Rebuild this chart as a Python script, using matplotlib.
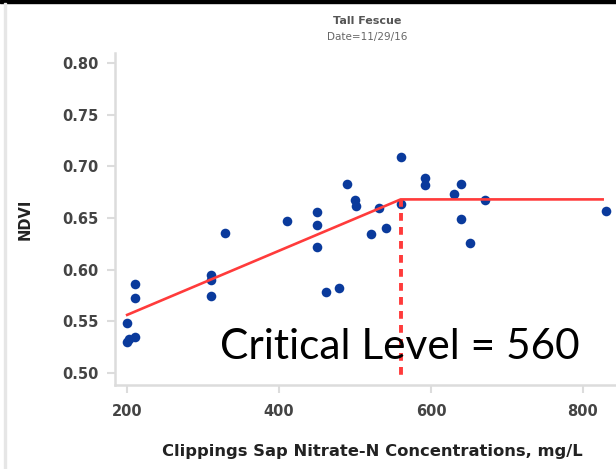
import matplotlib
matplotlib.use("Agg")
import matplotlib.pyplot as plt
from matplotlib.patches import Rectangle

# ------------------------------------------------------------
# Data
# ------------------------------------------------------------
nitrate = [200, 200, 203, 210, 210, 210, 310, 310, 310, 329, 411,
           450, 450, 450, 462, 479, 490, 500, 501, 521, 531, 541,
           561, 561, 592, 592, 630, 640, 640, 651, 671, 831]
ndvi = [0.548, 0.530, 0.533, 0.535, 0.586, 0.572, 0.595, 0.590, 0.574,
        0.635, 0.647, 0.656, 0.643, 0.622, 0.578, 0.582, 0.683, 0.667,
        0.662, 0.634, 0.660, 0.640, 0.709, 0.664, 0.689, 0.682, 0.673,
        0.683, 0.649, 0.626, 0.667, 0.657]

fit_x = [200, 560, 826]
fit_y = [0.556, 0.668, 0.668]
critical = 560

x_ticks = [200, 400, 600, 800]
y_ticks = [0.50, 0.55, 0.60, 0.65, 0.70, 0.75, 0.80]

# ------------------------------------------------------------
# Figure
# ------------------------------------------------------------
W, H = 616, 469
fig = plt.figure(figsize=(W / 100, H / 100), dpi=100)
ax = fig.add_axes([115 / W, 1 - 385 / H, (630 - 115) / W, (385 - 53) / H])

grey = '#dcdcdc'
txt = '#444444'

ax.scatter(nitrate, ndvi, s=48, color='#0a3a9c', zorder=3, linewidths=0)
ax.plot(fit_x, fit_y, color='#ff3b3b', lw=1.9, zorder=4)
ax.plot([critical, critical], [fit_y[1], 0.494], color='#ff3b3b', lw=2.8,
        dashes=(2, 1.6), zorder=4)

ax.text(322, 0.525, 'Critical Level = 560', fontsize=30.5, family='Lato',
        ha='left', va='center', color='black', zorder=5)

ax.set_xlim(184, 862)
ax.set_ylim(0.488, 0.810)
ax.set_xticks(x_ticks)
ax.set_yticks(y_ticks)
ax.set_yticklabels([f'{v:.2f}' for v in y_ticks])

for side in ['top', 'right']:
    ax.spines[side].set_visible(False)
for side in ['left', 'bottom']:
    ax.spines[side].set_color(grey)
    ax.spines[side].set_linewidth(1.8)
ax.tick_params(axis='both', color=grey, width=1.5, length=6,
               labelsize=10.5, labelcolor=txt)
ax.tick_params(axis='y', pad=6)
ax.tick_params(axis='x', pad=8)
for lab in ax.get_xticklabels() + ax.get_yticklabels():
    lab.set_fontweight('bold')

ax.set_xlabel('Clippings Sap Nitrate-N Concentrations, mg/L', fontsize=11.8,
              fontweight='bold', color='#222222', labelpad=18)
ax.set_ylabel('NDVI', fontsize=10.5, fontweight='bold', color='#222222',
              labelpad=21)

fig.text(367 / W, 1 - 21 / H, 'Tall Fescue', fontsize=8, fontweight='bold',
         color='#555555', ha='center', va='center')
fig.text(367 / W, 1 - 37 / H, 'Date=11/29/16', fontsize=7.5, color='#666666',
         ha='center', va='center')

# frame artifacts of the screenshot
fig.patches.append(Rectangle((0, 1 - 3 / H), 1, 3 / H, transform=fig.transFigure,
                             color='black', zorder=0))
fig.patches.append(Rectangle((4 / W, 0), 2 / W, 1 - 3 / H, transform=fig.transFigure,
                             color='#e6e6e6', zorder=0))

fig.savefig('out.png', dpi=100)
